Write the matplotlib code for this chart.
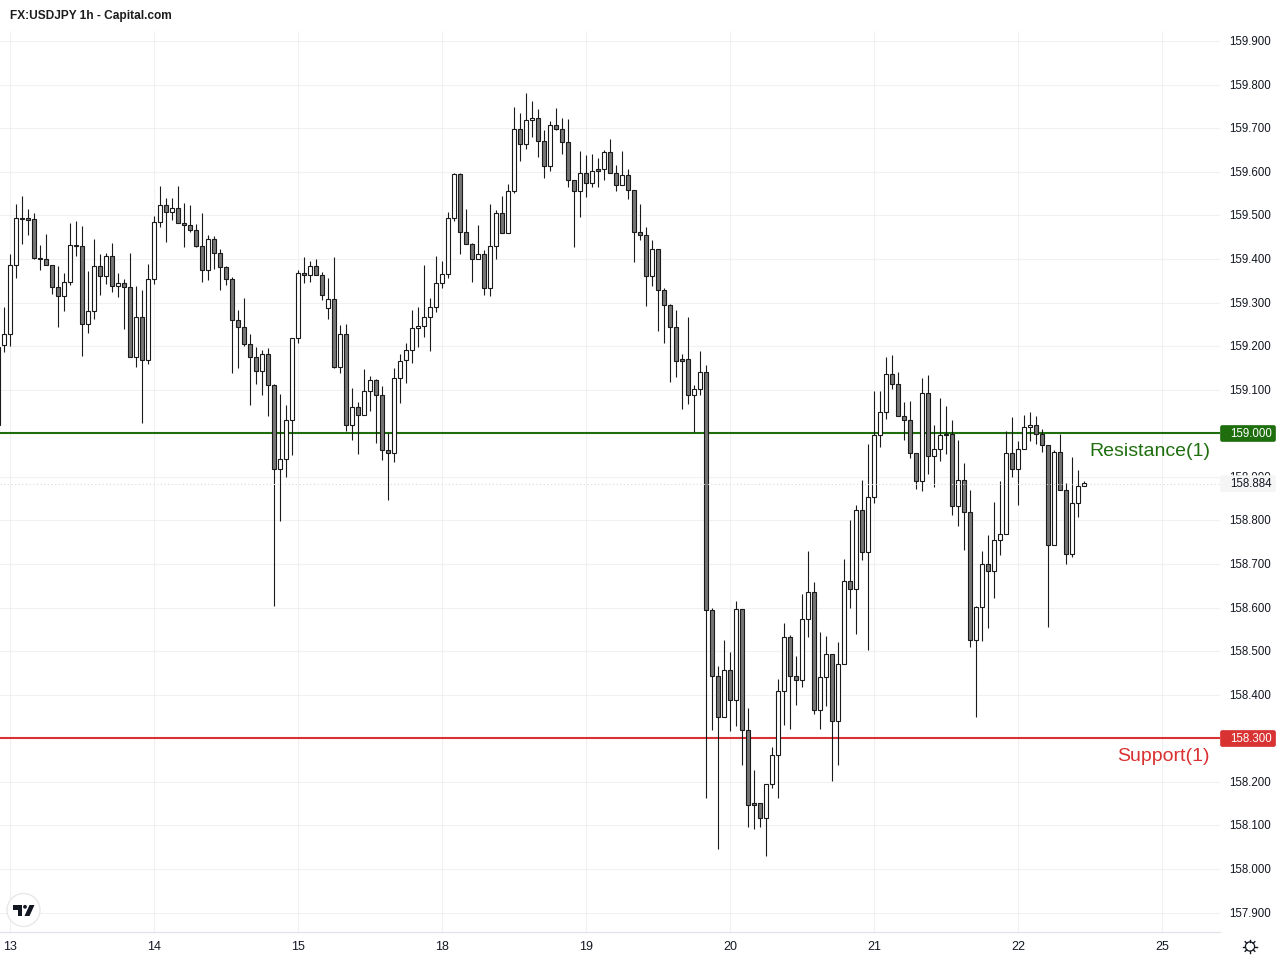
import numpy as np
import matplotlib
matplotlib.use("Agg")
import matplotlib.pyplot as plt
from matplotlib.patches import Circle, FancyBboxPatch, Polygon
from matplotlib.lines import Line2D
from matplotlib.transforms import IdentityTransform, ScaledTranslation

plt.rcParams['font.family'] = ['Liberation Sans', 'DejaVu Sans']

# USDJPY 1h, valores. Las dos primeras velas son anteriores al dia 13
opens = [159.019, 159.202,
    159.229,159.387,159.495,159.493,159.491,159.403,159.399,159.387,159.335,159.316,159.348,159.433,159.429,159.250,159.280,159.385,159.362,159.406,159.339,159.346,159.335,159.174,159.268,159.169,
    159.355,159.484,159.523,159.509,159.518,159.482,159.479,159.466,159.431,159.374,159.447,159.413,159.381,159.355,159.259,159.245,159.206,159.176,159.144,159.181,159.110,158.919,158.942,159.030,
    159.218,159.367,159.363,159.383,159.363,159.287,159.308,159.152,159.227,159.020,159.060,159.043,159.096,159.122,159.087,158.961,158.954,159.126,159.168,159.191,159.241,159.246,159.266,159.289,
    159.344,159.365,159.493,159.595,159.461,159.434,159.399,159.411,159.333,159.429,159.505,159.459,159.555,159.698,159.663,159.718,159.723,159.672,159.613,159.707,159.698,159.668,159.581,159.555,
    159.597,159.574,159.606,159.606,159.645,159.597,159.571,159.592,159.558,159.461,159.454,159.362,159.424,159.330,159.294,159.245,159.170,159.170,159.089,159.101,159.140,158.594,158.442,158.348,
    158.456,158.387,158.596,158.320,158.151,158.151,158.116,158.194,158.261,158.408,158.532,158.442,158.433,158.573,158.635,158.364,158.440,158.493,158.339,158.470,158.660,158.642,158.823,158.727,
    158.853,158.995,159.048,159.137,159.114,159.039,159.030,158.954,158.890,159.092,158.947,158.965,158.999,158.999,158.832,158.892,158.819,158.525,158.601,158.699,158.685,158.754,158.770,158.954,
    158.917,158.963,159.014,159.018,158.999,158.972,158.743,158.956,158.871,158.724,158.841,158.878]
closes = [159.198, 159.229,
    159.387,159.495,159.492,159.490,159.403,159.399,159.387,159.335,159.316,159.348,159.433,159.429,159.250,159.280,159.385,159.362,159.406,159.339,159.346,159.335,159.174,159.268,159.169,159.355,
    159.484,159.523,159.509,159.518,159.482,159.479,159.466,159.431,159.374,159.447,159.413,159.381,159.355,159.259,159.245,159.206,159.176,159.144,159.181,159.110,158.919,158.942,159.030,159.218,
    159.367,159.363,159.383,159.363,159.317,159.308,159.152,159.227,159.020,159.060,159.043,159.096,159.122,159.087,158.961,158.954,159.126,159.167,159.191,159.241,159.246,159.266,159.289,159.344,
    159.365,159.493,159.595,159.461,159.434,159.399,159.411,159.333,159.429,159.505,159.459,159.555,159.698,159.663,159.718,159.723,159.672,159.613,159.707,159.698,159.668,159.581,159.555,159.597,
    159.574,159.603,159.603,159.645,159.597,159.571,159.592,159.558,159.461,159.454,159.362,159.424,159.330,159.294,159.245,159.167,159.167,159.089,159.101,159.140,158.594,158.442,158.348,158.456,
    158.387,158.596,158.320,158.148,158.148,158.116,158.194,158.261,158.408,158.532,158.442,158.433,158.573,158.635,158.364,158.440,158.493,158.339,158.470,158.660,158.642,158.823,158.727,158.853,
    158.995,159.048,159.137,159.114,159.039,159.030,158.954,158.890,159.092,158.947,158.965,158.997,158.997,158.832,158.892,158.819,158.525,158.601,158.699,158.685,158.754,158.770,158.954,158.917,
    158.963,159.014,159.018,158.999,158.972,158.743,158.956,158.871,158.724,158.841,158.878,158.885]
highs = [159.198, 159.290,
    159.411,159.526,159.544,159.514,159.505,159.432,159.457,159.387,159.383,159.367,159.482,159.487,159.475,159.372,159.447,159.411,159.413,159.436,159.367,159.353,159.413,159.339,159.330,159.388,
    159.498,159.567,159.541,159.541,159.567,159.528,159.524,159.480,159.505,159.456,159.453,159.424,159.385,159.358,159.284,159.310,159.228,159.197,159.192,159.195,159.114,159.091,159.064,159.218,
    159.375,159.405,159.395,159.400,159.370,159.356,159.405,159.248,159.250,159.105,159.071,159.147,159.131,159.124,159.108,159.000,159.151,159.183,159.207,159.283,159.289,159.386,159.310,159.406,
    159.395,159.507,159.597,159.597,159.514,159.436,159.477,159.421,159.526,159.512,159.544,159.572,159.748,159.734,159.780,159.762,159.744,159.695,159.716,159.746,159.723,159.721,159.581,159.647,
    159.638,159.641,159.632,159.650,159.675,159.616,159.647,159.606,159.558,159.526,159.473,159.444,159.424,159.333,159.297,159.284,159.182,159.266,159.112,159.188,159.156,158.598,158.467,158.525,
    158.499,158.614,158.596,158.369,158.227,158.151,158.194,158.281,158.435,158.564,158.536,158.490,158.631,158.730,158.658,158.543,158.534,158.493,158.520,158.711,158.801,158.835,158.892,158.975,
    159.098,159.098,159.174,159.179,159.140,159.071,159.073,158.954,159.126,159.133,159.020,159.082,159.062,159.030,158.985,158.931,158.869,158.603,158.731,158.766,158.842,158.890,159.005,159.037,
    158.982,159.041,159.050,159.039,159.011,158.972,158.961,158.998,158.885,158.945,158.915,158.890]
lows = [159.019, 159.187,
    159.201,159.357,159.434,159.455,159.401,159.375,159.387,159.320,159.244,159.281,159.341,159.407,159.178,159.231,159.263,159.318,159.343,159.325,159.313,159.240,159.174,159.153,159.024,159.160,
    159.343,159.474,159.440,159.489,159.482,159.428,159.462,159.427,159.348,159.352,159.378,159.329,159.341,159.139,159.150,159.201,159.065,159.114,159.088,159.040,158.604,158.799,158.900,158.950,
    159.207,159.346,159.348,159.363,159.307,159.263,159.149,159.139,159.006,158.985,158.953,159.043,159.052,158.978,158.939,158.847,158.933,159.070,159.115,159.161,159.199,159.220,159.190,159.279,
    159.334,159.357,159.488,159.412,159.434,159.348,159.399,159.318,159.314,159.399,159.459,159.459,159.552,159.624,159.653,159.679,159.635,159.587,159.603,159.695,159.640,159.566,159.428,159.497,
    159.543,159.566,159.566,159.581,159.597,159.557,159.571,159.538,159.394,159.444,159.293,159.339,159.235,159.208,159.118,159.130,159.056,159.068,159.003,159.089,158.164,158.319,158.045,158.348,
    158.317,158.329,158.239,158.097,158.092,158.097,158.030,158.185,158.164,158.331,158.322,158.377,158.418,158.533,158.356,158.322,158.375,158.203,158.239,158.470,158.600,158.540,158.710,158.503,
    158.841,158.969,159.033,159.102,159.039,158.985,158.944,158.873,158.868,158.907,158.877,158.937,158.953,158.813,158.788,158.733,158.510,158.349,158.524,158.552,158.623,158.721,158.770,158.900,
    158.836,158.963,158.983,158.975,158.956,158.555,158.743,158.869,158.701,158.717,158.807,158.878]

day_labels = ['13', '14', '15', '18', '19', '20', '21', '22', '25']
day_bars = [0, 24, 48, 72, 96, 120, 144, 168, 192]
price_ticks = [157.9, 158.0, 158.1, 158.2, 158.3, 158.4, 158.5, 158.6, 158.7, 158.8, 158.9,
               159.0, 159.1, 159.2, 159.3, 159.4, 159.5, 159.6, 159.7, 159.8, 159.9]
resistance = 159.0
support = 158.3
last_price = 158.884

INK = '#131722'
GRID = '#f1f1f3'
BODY = '#757575'
WICK = '#1a1a1a'
GREEN = '#1f6e0e'
RED = '#d93232'

W, H = 1280, 960
fig = plt.figure(figsize=(W / 100, H / 100), dpi=100)
ax = fig.add_axes([0, (H - 932) / H, 1220 / W, 901 / H])
ax.set_xlim(-10.3 / 6, (1220 - 10.3) / 6)
ax.set_ylim(159 - (932 - 433.3) / 435.7, 159 + (433.3 - 31) / 435.7)

for s in ['top', 'right', 'left']:
    ax.spines[s].set_visible(False)
ax.spines['bottom'].set_color('#e0e3eb')
ax.spines['bottom'].set_linewidth(0.9)

ax.set_xticks(day_bars)
ax.set_xticklabels(day_labels, fontsize=9, color=INK)
ax.tick_params(axis='x', length=0, pad=6.5)
ax.yaxis.tick_right()
ax.set_yticks(price_ticks)
ax.set_yticklabels([f'{p:.3f}' for p in price_ticks], fontsize=8.3, color=INK)
ax.tick_params(axis='y', length=0, pad=6.8)
up_1px = ScaledTranslation(0, 0.5 / 100, fig.dpi_scale_trans)
for lbl in ax.get_yticklabels():
    lbl.set_transform(lbl.get_transform() + up_1px)
ax.grid(True, color=GRID, linewidth=0.75)
ax.set_axisbelow(True)

# las velas van encima de las lineas de soporte y resistencia
ax.axhline(resistance, color=GREEN, linewidth=1.5, zorder=2)
ax.axhline(support, color=RED, linewidth=1.5, zorder=2)

x = np.arange(len(opens)) - 2
o = np.array(opens)
c = np.array(closes)
ax.vlines(x, lows, highs, color=WICK, linewidth=0.8, zorder=3)
ax.bar(x, np.abs(c - o), bottom=np.minimum(o, c), width=0.72,
       color=[('white' if cc > oo else BODY) for oo, cc in zip(o, c)],
       edgecolor=WICK, linewidth=0.8, zorder=4)
ax.axhline(last_price, color='#d6d6d6', linewidth=0.75, linestyle=(0, (1, 2.5)), zorder=5)

ax.text(1210 / 1220, resistance - 0.0395 - 0.002, 'Resistance(1)', color=GREEN, fontsize=14,
        ha='right', va='center', transform=ax.get_yaxis_transform())
ax.text(1210 / 1220, support - 0.0395 - 0.002, 'Support(1)', color=RED, fontsize=14,
        ha='right', va='center', transform=ax.get_yaxis_transform())

fig.text(10 / W, 1 - 16 / H, 'FX:USDJPY 1h - Capital.com', fontsize=8.55, fontweight='bold',
         color='#1c1c1c', ha='left', va='center')


def px(xp, yp):
    # pixeles de la imagen (origen arriba a la izquierda) a pixeles de la figura
    return (xp, H - yp)


def price_tag(price, face, text_color, y_mid):
    # etiqueta sobre el eje de precios
    box = FancyBboxPatch(px(1220.5, y_mid + 8), 55, 16,
                         boxstyle='round,pad=0,rounding_size=2',
                         transform=IdentityTransform(), facecolor=face, edgecolor=face,
                         linewidth=0.5, zorder=6)
    fig.add_artist(box)
    fig.text(1230.5 / W, 1 - (y_mid + 0.5) / H, f'{price:.3f}', color=text_color, fontsize=8.3,
             ha='left', va='center', zorder=7)


price_tag(resistance, GREEN, 'white', 433.5)
price_tag(support, RED, 'white', 738.5)
price_tag(last_price, '#f5f5f6', INK, 483.7)

# logo de TradingView
fig.add_artist(Circle(px(23.5, 910), 16.5, transform=IdentityTransform(), facecolor='white',
                      edgecolor='#e8e8ea', linewidth=1, zorder=6))
logo = [
    [(13, 905), (22, 905), (22, 916), (17.5, 916), (17.5, 909.5), (13, 909.5)],
    [(29.5, 905), (34.5, 905), (29.5, 916), (24.5, 916)],
]
for pts in logo:
    fig.add_artist(Polygon([px(*p) for p in pts], closed=True, transform=IdentityTransform(),
                           facecolor='#131722', edgecolor='none', zorder=7))
fig.add_artist(Circle(px(25, 906.8), 1.9, transform=IdentityTransform(), facecolor='#131722',
                      edgecolor='none', zorder=7))

# engranaje de ajustes
fig.add_artist(Circle(px(1250, 946.5), 4.6, transform=IdentityTransform(), facecolor='none',
                      edgecolor=INK, linewidth=0.9, zorder=6))
for ang in np.arange(0, 360, 45):
    a = np.radians(ang)
    p0 = px(1250 + 4.6 * np.cos(a), 946.5 + 4.6 * np.sin(a))
    p1 = px(1250 + 6.8 * np.cos(a), 946.5 + 6.8 * np.sin(a))
    fig.add_artist(Line2D([p0[0], p1[0]], [p0[1], p1[1]], transform=IdentityTransform(),
                          color=INK, linewidth=1.0, zorder=6))

fig.savefig('out.png', dpi=100)
